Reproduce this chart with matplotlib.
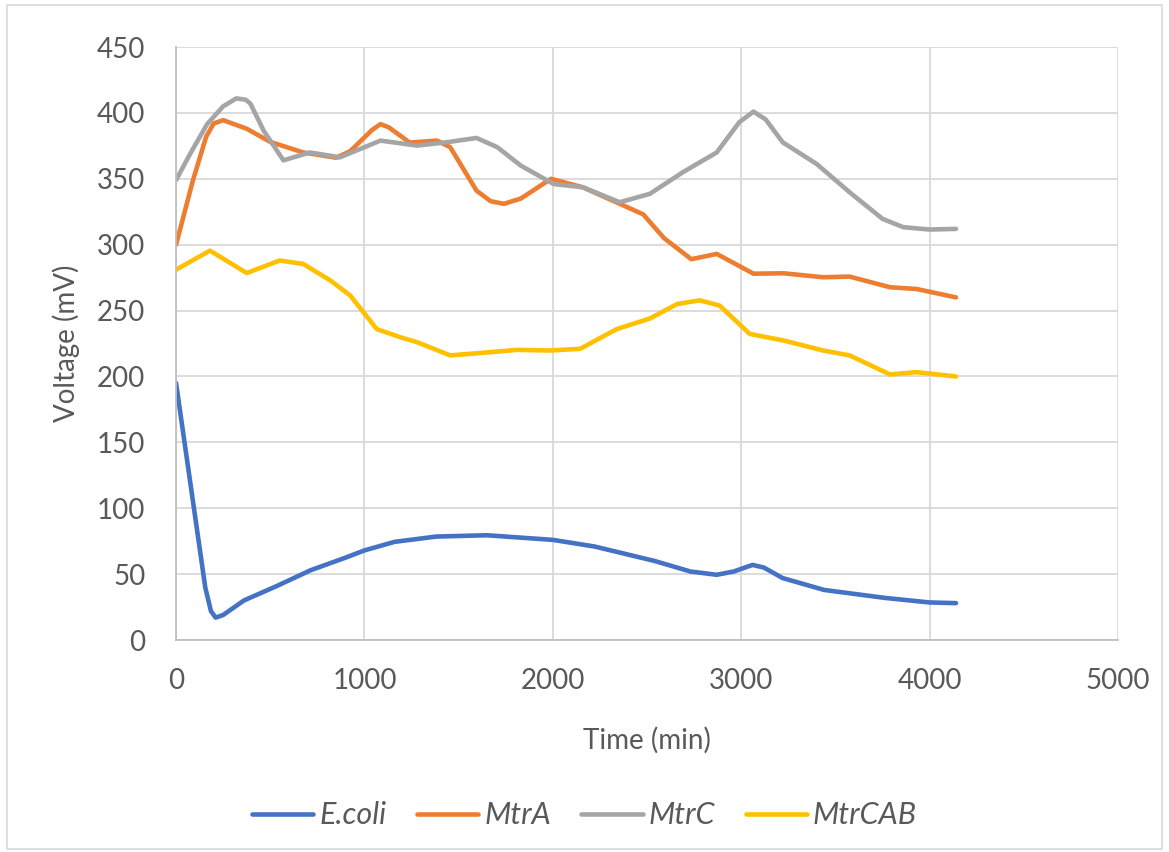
import matplotlib
matplotlib.use('Agg')
import matplotlib.pyplot as plt
from matplotlib.patches import Rectangle

plt.rcParams['font.family'] = ['Lato', 'DejaVu Sans']

# values
ecoli_t = [0, 155, 185, 210, 250, 360, 535, 715, 890, 1000, 1160, 1380, 1650, 2000, 2220, 2540,
           2730, 2870, 2960, 3060, 3120, 3220, 3440, 3760, 4000, 4140]
ecoli_v = [195, 40, 22, 17, 19, 30, 41, 53, 62, 68, 74.5, 78.5, 79.5, 76, 71, 60,
           52, 49.5, 52, 57, 55, 47, 38, 32, 28.5, 28]

mtra_t = [0, 90, 160, 200, 250, 375, 500, 675, 850, 925, 1040, 1085, 1130, 1240, 1385, 1455,
          1595, 1670, 1740, 1830, 1990, 2160, 2340, 2480, 2590, 2735, 2870, 3065, 3225,
          3435, 3575, 3790, 3930, 4140]
mtra_v = [300, 349, 382, 392, 394.5, 388, 378, 370, 366, 371, 387, 391.5, 389, 377.5, 379, 374,
          341, 333, 331, 335, 350, 343.5, 332, 323, 305, 289, 293, 278, 278.3,
          275.3, 275.8, 267.7, 266.4, 260]

mtrc_t = [0, 75, 165, 250, 320, 370, 395, 465, 570, 710, 870, 1085, 1280, 1435, 1595, 1705,
          1830, 2005, 2160, 2355, 2515, 2690, 2870, 2990, 3065, 3130, 3220, 3400, 3575, 3750,
          3860, 4000, 4140]
mtrc_v = [349, 369, 391.5, 405, 411, 410, 407, 386.5, 364, 370, 366.3, 379, 375.2, 377.7, 381, 374,
          360, 346, 343.6, 332.2, 338.6, 355, 370, 393, 401, 395, 377.7, 361.3, 339.8, 319.6,
          313.3, 311.5, 312]

mtrcab_t = [0, 180, 375, 550, 675, 820, 925, 1065, 1190, 1280, 1455, 1665, 1810, 1985,
            2145, 2340, 2515, 2660, 2780, 2885, 3045, 3225, 3435, 3575, 3790, 3930, 4140]
mtrcab_v = [281, 295.5, 278.5, 288, 285.4, 272.8, 261.4, 236, 229.8, 226, 216, 218.4, 220.2, 219.7,
            221, 236, 244, 255, 257.8, 253.8, 232.3, 227.3, 219.7, 216, 201.5, 203.3, 200]

x_ticks = [0, 1000, 2000, 3000, 4000, 5000]
y_ticks = [0, 50, 100, 150, 200, 250, 300, 350, 400, 450]

txt = '#595959'

fig = plt.figure(figsize=(11.69, 8.52), dpi=100)
fig.patches.append(Rectangle((0.006, 0.004), 0.988, 0.99, transform=fig.transFigure,
                             fill=False, edgecolor='#d9d9d9', linewidth=1.2))
ax = fig.add_axes([0.1506, 0.2488, 0.8058, 0.696])

kw = dict(linewidth=3.3, solid_joinstyle='round', solid_capstyle='round')
ax.plot(ecoli_t, ecoli_v, color='#4472C4', label='E.coli', **kw)
ax.plot(mtra_t, mtra_v, color='#ED7D31', label='MtrA', **kw)
ax.plot(mtrc_t, mtrc_v, color='#A5A5A5', label='MtrC', **kw)
ax.plot(mtrcab_t, mtrcab_v, color='#FFC000', label='MtrCAB', **kw)

ax.set_xlim(0, 5000)
ax.set_ylim(0, 450)
ax.set_xticks(x_ticks)
ax.set_yticks(y_ticks)
ax.grid(True, color='#d9d9d9', linewidth=1.3)
ax.set_axisbelow(True)
for s in ['top', 'right']:
    ax.spines[s].set_visible(False)
for s in ['left', 'bottom']:
    ax.spines[s].set_color('#bfbfbf')
    ax.spines[s].set_linewidth(1.3)
ax.tick_params(axis='y', length=0, labelsize=20, labelcolor=txt, pad=22)
ax.tick_params(axis='x', length=0, labelsize=20, labelcolor=txt, pad=20)
ax.set_xlabel('Time (min)', fontsize=20, color=txt, labelpad=24)
ax.set_ylabel('Voltage (mV)', fontsize=20, color=txt, labelpad=12)

leg = fig.legend(loc='center', bbox_to_anchor=(0.5, 0.043), ncol=4, frameon=False,
                 fontsize=22, handlelength=2.0, columnspacing=1.0, handletextpad=0.2)
for t in leg.get_texts():
    t.set_color(txt)
    t.set_fontstyle('italic')

fig.savefig('out.png', dpi=100)
